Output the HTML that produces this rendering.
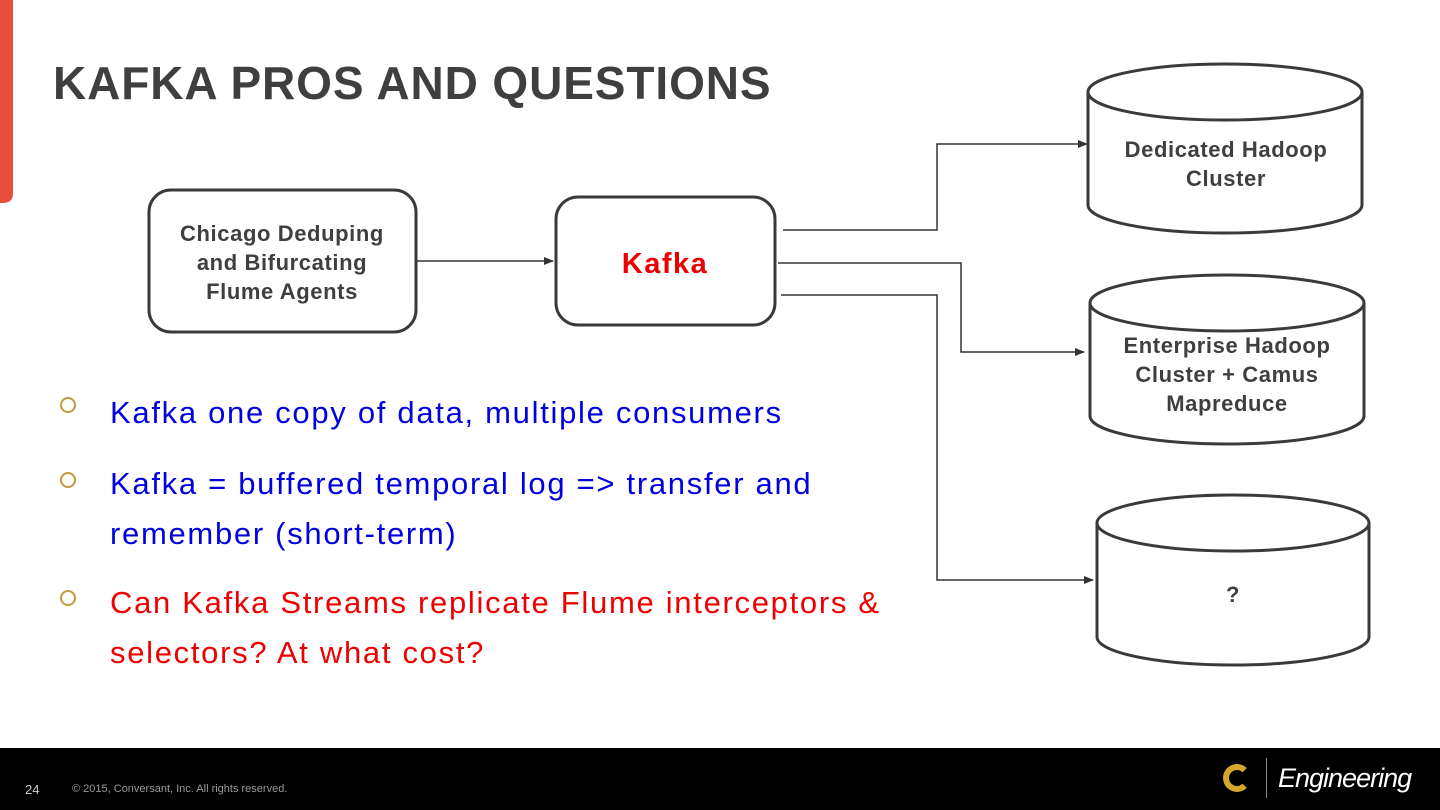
<!DOCTYPE html>
<html><head><style>
body{margin:0;width:1440px;height:810px;overflow:hidden;background:#fff;font-family:"Liberation Sans",sans-serif;position:relative}
.t{position:absolute;left:53px;top:56px;font-size:46px;font-weight:bold;color:#3f3f3f;letter-spacing:0.9px;white-space:nowrap}
.b{position:absolute;left:110px;font-size:31px;line-height:50px;letter-spacing:1.7px;white-space:nowrap}
.bul{position:absolute;left:60px;width:12px;height:12px;border:2px solid #c49a3a;border-radius:50%}
.foot{position:absolute;left:0;top:748px;width:1440px;height:62px;background:#000}
</style></head><body>
<svg width="1440" height="810" style="position:absolute;left:0;top:0">
<defs><marker id="a" markerWidth="10" markerHeight="10" refX="9" refY="4" orient="auto" markerUnits="userSpaceOnUse"><path d="M0,0 L10,4 L0,8z" fill="#333"/></marker></defs>
<path d="M0,0 H13 V193 Q13,203 3,203 H0z" fill="#e84c3d"/>
<rect x="149" y="190" width="267" height="142" rx="22" fill="#fff" stroke="#3a3a3a" stroke-width="3"/>
<rect x="556" y="197" width="219" height="128" rx="22" fill="#fff" stroke="#3a3a3a" stroke-width="3"/>
<g fill="none" stroke="#333" stroke-width="1.5">
<path d="M417,261 H553" marker-end="url(#a)"/>
<path d="M783,230 H937 V144 H1087" marker-end="url(#a)"/>
<path d="M778,263 H961 V352 H1084" marker-end="url(#a)"/>
<path d="M781,295 H937 V580 H1093" marker-end="url(#a)"/>
</g>
<g fill="#fff" stroke="#3a3a3a" stroke-width="3">
<path d="M1088,92 A137,28 0 0 1 1362,92 V205 A137,28 0 0 1 1088,205z"/><path d="M1088,92 A137,28 0 0 0 1362,92" fill="none"/>
<path d="M1090,303 A137,28 0 0 1 1364,303 V416 A137,28 0 0 1 1090,416z"/><path d="M1090,303 A137,28 0 0 0 1364,303" fill="none"/>
<path d="M1097,523 A136,28 0 0 1 1369,523 V637 A136,28 0 0 1 1097,637z"/><path d="M1097,523 A136,28 0 0 0 1369,523" fill="none"/>
</g>
<g font-family="Liberation Sans,sans-serif" font-weight="bold" fill="#3f3f3f" font-size="22" letter-spacing="0.6" text-anchor="middle">
<text x="282" y="241">Chicago Deduping</text><text x="282" y="270">and Bifurcating</text><text x="282" y="299">Flume Agents</text>
<text x="665" y="273" font-size="29" letter-spacing="1.5" fill="#e00">Kafka</text>
<text x="1226" y="157">Dedicated Hadoop</text><text x="1226" y="186">Cluster</text>
<text x="1227" y="353">Enterprise Hadoop</text><text x="1227" y="382">Cluster + Camus</text><text x="1227" y="411">Mapreduce</text>
<text x="1233" y="602">?</text>
</g>
</svg>
<div class="t">KAFKA PROS AND QUESTIONS</div>
<div class="bul" style="top:397px"></div>
<div class="bul" style="top:472px"></div>
<div class="bul" style="top:590px"></div>
<div class="b" style="top:388px;color:#0000e0">Kafka one copy of data, multiple consumers</div>
<div class="b" style="top:459px;color:#0000e0">Kafka = buffered temporal log =&gt; transfer and<br>remember (short-term)</div>
<div class="b" style="top:578px;color:#e00">Can Kafka Streams replicate Flume interceptors &amp;<br>selectors? At what cost?</div>
<div class="foot">
<div style="position:absolute;left:25px;top:34px;color:#ccc;font-size:13px">24</div>
<div style="position:absolute;left:72px;top:35px;color:#999;font-size:11px">© 2015, Conversant, Inc. All rights reserved.</div>
<div style="position:absolute;left:1223px;top:16px;width:16px;height:16px;border:6px solid #d4a72c;border-radius:50%;border-right-color:#000"></div>
<div style="position:absolute;left:1266px;top:10px;width:1px;height:40px;background:#888"></div>
<div style="position:absolute;left:1278px;top:15px;color:#fff;font-size:27px;font-style:italic;letter-spacing:-1px">Engineering</div>
</div>
</body></html>
